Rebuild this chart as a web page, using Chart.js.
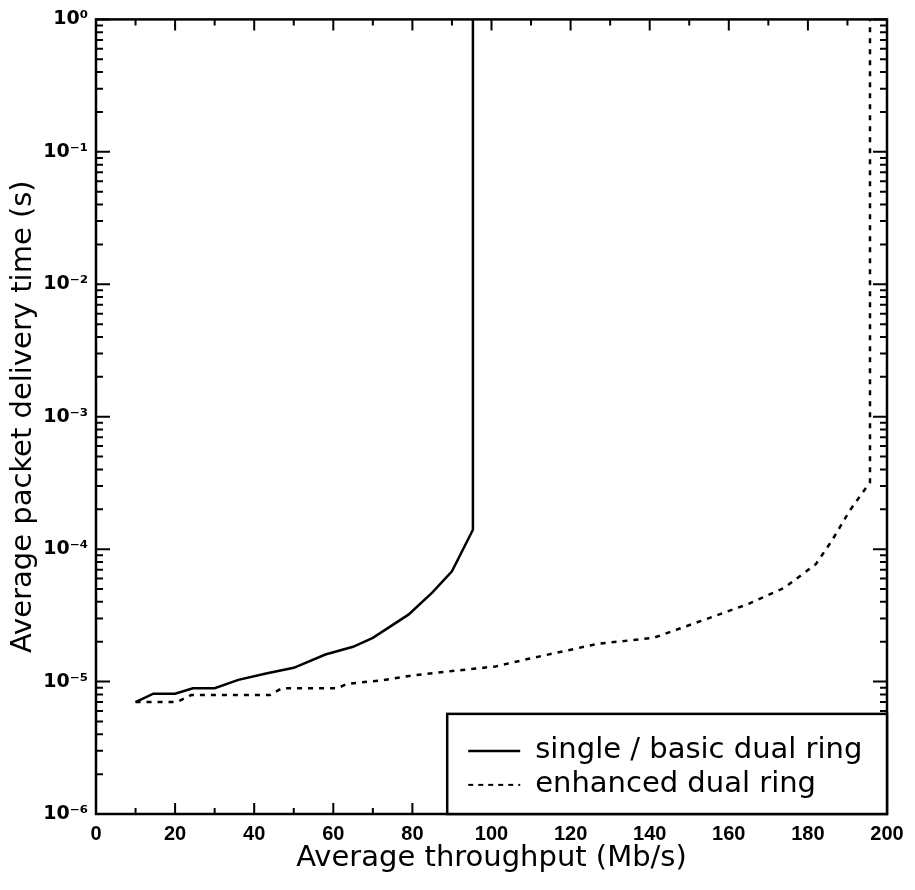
<!DOCTYPE html>
<html>
<head>
<meta charset="utf-8">
<script src="https://cdn.jsdelivr.net/npm/chart.js@4"></script>
<style>
html, body { margin: 0; padding: 0; background: #fff; }
</style>
</head>
<body>
<canvas id="delayChart" width="915" height="890"></canvas>
<script>
// values (throughput in Mb/s, delay in s)
const singleX = [10, 14.5, 20, 24.5, 30, 36, 43, 50, 58, 65, 70, 79, 85, 90, 95.3, 95.3];
const singleY = [7e-6, 8.1e-6, 8.1e-6, 8.9e-6, 8.9e-6, 1.03e-5, 1.15e-5, 1.27e-5, 1.6e-5, 1.83e-5, 2.14e-5, 3.2e-5, 4.7e-5, 6.8e-5, 1.4e-4, 1];
const enhancedX = [10, 20.5, 24, 44, 47, 61, 63.5, 72, 80, 90, 101, 110, 127, 141, 153, 165, 174, 182, 186, 190.5, 195.7, 195.7];
const enhancedY = [7e-6, 7e-6, 7.9e-6, 7.9e-6, 8.9e-6, 8.9e-6, 9.6e-6, 1.02e-5, 1.11e-5, 1.2e-5, 1.3e-5, 1.5e-5, 1.93e-5, 2.14e-5, 2.87e-5, 3.86e-5, 5.1e-5, 7.7e-5, 1.15e-4, 1.94e-4, 3.2e-4, 1];
const seriesNames = ['single / basic dual ring', 'enhanced dual ring'];
const xTicks = [0, 20, 40, 60, 80, 100, 120, 140, 160, 180, 200];

const supDigits = { '-': '\u207B', '0': '\u2070', '1': '\u00B9', '2': '\u00B2', '3': '\u00B3', '4': '\u2074', '5': '\u2075', '6': '\u2076', '7': '\u2077', '8': '\u2078', '9': '\u2079' };
function powLabel(e) {
    return '10' + String(e).split('').map(c => supDigits[c]).join('');
}

function toPoints(xs, ys) {
    return xs.map((x, i) => ({ x: x, y: ys[i] }));
}

// frame, inward ticks on all four sides, and the boxed legend
const framePlugin = {
    id: 'frame',
    afterDatasetsDraw(chart) {
        const ctx = chart.ctx;
        const a = chart.chartArea;
        const xs = chart.scales.x, ys = chart.scales.y;
        ctx.save();
        ctx.strokeStyle = '#000';
        ctx.lineWidth = 2.5;
        ctx.strokeRect(a.left, a.top, a.right - a.left, a.bottom - a.top);

        ctx.lineWidth = 2;
        ctx.beginPath();
        for (let v = 0; v <= 200; v += 10) {
            const px = xs.getPixelForValue(v);
            const len = v % 20 === 0 ? 11 : 6;
            ctx.moveTo(px, a.bottom); ctx.lineTo(px, a.bottom - len);
            ctx.moveTo(px, a.top); ctx.lineTo(px, a.top + len);
        }
        for (let e = -6; e <= 0; e++) {
            for (let m = 1; m <= 9; m++) {
                const val = m * Math.pow(10, e);
                if (val > 1) break;
                const py = ys.getPixelForValue(val);
                const len = m === 1 ? 14 : 7;
                ctx.moveTo(a.left, py); ctx.lineTo(a.left + len, py);
                ctx.moveTo(a.right, py); ctx.lineTo(a.right - len, py);
            }
        }
        ctx.stroke();

        // legend box in the lower right corner
        const bx = a.left + (a.right - a.left) * 0.444;
        const by = a.top + (a.bottom - a.top) * 0.874;
        ctx.fillStyle = '#fff';
        ctx.fillRect(bx, by, a.right - bx, a.bottom - by);
        ctx.lineWidth = 2.5;
        ctx.strokeRect(bx, by, a.right - bx, a.bottom - by);

        ctx.font = '29px "DejaVu Sans", sans-serif';
        ctx.fillStyle = '#000';
        ctx.textBaseline = 'middle';
        ctx.textAlign = 'left';
        const rows = [by + 37, by + 71];
        ctx.lineWidth = 2.5;
        ctx.beginPath();
        ctx.moveTo(bx + 21, rows[0]); ctx.lineTo(bx + 73, rows[0]);
        ctx.stroke();
        ctx.lineWidth = 2;
        ctx.setLineDash([5, 5]);
        ctx.beginPath();
        ctx.moveTo(bx + 21, rows[1]); ctx.lineTo(bx + 73, rows[1]);
        ctx.stroke();
        ctx.setLineDash([]);
        ctx.fillText(seriesNames[0], bx + 88, rows[0]);
        ctx.fillText(seriesNames[1], bx + 88, rows[1]);
        ctx.restore();
    }
};

const ctx = document.getElementById('delayChart').getContext('2d');

new Chart(ctx, {
    type: 'line',
    data: {
        datasets: [{
            label: seriesNames[0],
            data: toPoints(singleX, singleY),
            borderColor: '#000',
            borderWidth: 2.5,
            pointRadius: 0,
            tension: 0
        }, {
            label: seriesNames[1],
            data: toPoints(enhancedX, enhancedY),
            borderColor: '#000',
            borderWidth: 2.5,
            borderDash: [5, 6],
            pointRadius: 0,
            tension: 0
        }]
    },
    options: {
        responsive: false,
        animation: false,
        layout: { padding: { top: 16, right: 28, left: 0, bottom: 0 } },
        plugins: {
            legend: { display: false },
            tooltip: { enabled: false }
        },
        scales: {
            x: {
                type: 'linear',
                min: 0,
                max: 200,
                afterBuildTicks: s => { s.ticks = xTicks.map(v => ({ value: v })); },
                ticks: {
                    color: '#000',
                    font: { family: '"Liberation Sans", Arial, sans-serif', size: 20, weight: 'bold' },
                    padding: 8,
                    maxRotation: 0
                },
                grid: { display: false, drawTicks: false },
                border: { display: false },
                title: {
                    display: true,
                    text: 'Average throughput (Mb/s)',
                    color: '#000',
                    font: { family: '"DejaVu Sans", sans-serif', size: 29 },
                    padding: { top: 0, bottom: 14 }
                },
                afterFit: s => { s.height = 76; }
            },
            y: {
                type: 'logarithmic',
                min: 1e-6,
                max: 1,
                ticks: {
                    autoSkip: false,
                    color: '#000',
                    font: { family: '"DejaVu Sans", sans-serif', size: 19, weight: 'bold' },
                    padding: 8,
                    callback: v => {
                        const e = Math.log10(v);
                        return Math.abs(e - Math.round(e)) < 1e-9 ? powLabel(Math.round(e)) : null;
                    }
                },
                grid: { display: false, drawTicks: false },
                border: { display: false },
                title: {
                    display: true,
                    text: 'Average packet delivery time (s)',
                    color: '#000',
                    font: { family: '"DejaVu Sans", sans-serif', size: 29 },
                    padding: { top: 6, bottom: 0 }
                },
                afterFit: s => { s.width = 96; }
            }
        }
    },
    plugins: [framePlugin]
});
</script>
</body>
</html>
